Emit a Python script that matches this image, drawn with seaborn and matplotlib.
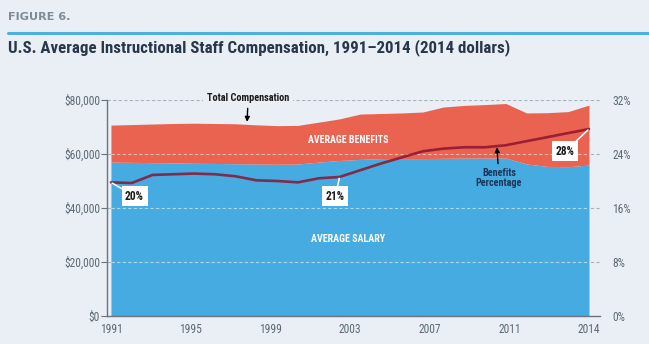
import matplotlib
matplotlib.use("Agg")
import matplotlib.pyplot as plt
from matplotlib import font_manager as fm
from matplotlib.lines import Line2D
import numpy as np
import pandas as pd
import seaborn as sns

# Compensation per instructional staff member, constant 2014 dollars
years = list(range(1991, 2015))
total_comp = [70700, 70900, 71100, 71300, 71400, 71300, 71200, 70800, 70500, 70600,
              71800, 73000, 74800, 75000, 75200, 75550, 77400, 78000, 78300, 78700,
              75200, 75300, 75700, 78100]
avg_salary = [57000, 56900, 56800, 56700, 56550, 56500, 56400, 56300, 56200, 56300,
              57000, 57600, 58000, 58300, 58300, 58300, 58400, 58500, 58500, 58500,
              56300, 55400, 55300, 55900]
# Benefits as a share of total compensation (%)
benefits_pct = [19.8, 19.7, 20.9, 21.0, 21.1, 21.0, 20.7, 20.1, 20.0, 19.8,
                20.4, 20.6, 21.6, 22.6, 23.5, 24.4, 24.8, 25.0, 25.0, 25.3,
                25.9, 26.5, 27.1, 27.7]

x_tick_labels = ["1991", "1995", "1999", "2003", "2007", "2011", "2014"]
dollar_ticks = [0, 20000, 40000, 60000, 80000]
pct_ticks = [0, 8, 16, 24, 32]
callout_years = [1991, 2002, 2014]

BG = "#e9eff4"
BLUE = "#46abe0"
RED = "#ea6350"
LINE = "#8c1330"
NAVY = "#1d3557"
GREY = "#5d6a75"
GRID = "#a9b3bc"


def pick_narrow_family():
    """Return (family, stretch) for the narrowest sans face that is installed."""
    entries = fm.fontManager.ttflist
    names = {e.name for e in entries}
    for key in ("Liberation Sans Narrow", "Arial Narrow", "Roboto Condensed",
                "Open Sans Condensed", "DejaVu Sans Condensed", "Noto Sans Condensed"):
        if key in names:
            return key, "normal"
    for e in entries:
        if "Narrow" in e.name or "Condensed" in e.name:
            return e.name, "normal"
    for e in entries:
        if str(e.stretch) in ("condensed", "semi-condensed", "extra-condensed"):
            return e.name, str(e.stretch)
    return "DejaVu Sans", "normal"


sns.set_theme(style="white")
NARROW, STRETCH = pick_narrow_family()
plt.rcParams["font.family"] = [NARROW, "DejaVu Sans"]
plt.rcParams["font.stretch"] = STRETCH

df = pd.DataFrame({"year": years, "total": total_comp,
                   "salary": avg_salary, "pct": benefits_pct})

fig = plt.figure(figsize=(6.49, 3.44), dpi=100, facecolor=BG)
ax = fig.add_axes([107 / 649, 28 / 344, 493 / 649, 216 / 344])
ax.set_facecolor(BG)

# Header
fig_label = fig.text(8 / 649, 1 - 17 / 344, "FIGURE 6.", fontsize=7.5,
                     fontweight="bold", color="#7d8b97", va="center",
                     family=["DejaVu Sans"], fontstretch="normal")
fig.add_artist(Line2D([8 / 649, 1.0], [1 - 33 / 344] * 2, color="#4bb0dc", lw=2.2))
title = fig.text(8 / 649, 1 - 48 / 344,
                 "U.S. Average Instructional Staff Compensation, 1991\u20132014 (2014 dollars)",
                 fontsize=13, fontweight="bold", color="#27374a", va="center")

# Gridlines behind the stacked areas
for v in dollar_ticks[1:]:
    ax.axhline(v, color=GRID, lw=0.8, ls=(0, (3, 2)), zorder=1)

ax.fill_between(df["year"], 0, df["salary"], color=BLUE, lw=0, zorder=2)
ax.fill_between(df["year"], df["salary"], df["total"], color=RED, lw=0, zorder=2)

# Lighter dashes where the gridlines cross the filled areas
ax.hlines(dollar_ticks[1:4], years[0], years[-1], color="white", alpha=0.55,
          lw=0.8, linestyles=[(0, (3, 2))], zorder=3)

ax.set_xlim(1990.81, 2014.53)
ax.set_ylim(0, 80000)
ax.set_xticks(np.linspace(years[0], years[-1], len(x_tick_labels)))
ax.set_xticklabels(x_tick_labels)
ax.set_yticks(dollar_ticks)
ax.set_yticklabels([f"${v:,.0f}" for v in dollar_ticks])
ax.tick_params(axis="y", length=4, width=0.8, color="#6b747c", pad=1,
               labelsize=8.3, labelcolor=GREY, left=True)
ax.tick_params(axis="x", length=0, pad=5, labelsize=8.3, labelcolor=GREY)
for s in ["top", "right"]:
    ax.spines[s].set_visible(False)
for s in ["left", "bottom"]:
    ax.spines[s].set_color("#6b747c")
    ax.spines[s].set_linewidth(1)
ax.set_xlabel("")
ax.set_ylabel("")

t_ben = ax.text(2002.4, 65190, "AVERAGE BENEFITS", color="white", fontsize=7.5,
                fontweight="heavy", ha="center", va="center", zorder=5)
t_sal = ax.text(2002.4, 28520, "AVERAGE SALARY", color="white", fontsize=7.5,
                fontweight="heavy", ha="center", va="center", zorder=5)
t_tot = ax.annotate("Total Compensation", xy=(1997.55, 71900), xytext=(1997.6, 80700),
                    ha="center", va="center", fontsize=8, fontweight="heavy",
                    color="#1a1a1a", bbox=dict(fc=BG, ec="none", pad=3),
                    arrowprops=dict(arrowstyle="-|>", color="black", lw=1, shrinkA=1,
                                    shrinkB=0, mutation_scale=7), zorder=6)

# Benefits share on the secondary axis
ax2 = ax.twinx()
sns.lineplot(data=df, x="year", y="pct", ax=ax2, color=LINE, lw=1.9, alpha=0.85,
             zorder=4)
ax2.set_ylim(0, 32)
ax2.set_yticks(pct_ticks)
ax2.set_yticklabels([f"{v}%" for v in pct_ticks])
ax2.tick_params(axis="y", length=0, pad=9, labelsize=8.3, labelcolor=GREY)
for s in ax2.spines.values():
    s.set_visible(False)
ax2.set_xlabel("")
ax2.set_ylabel("")

offsets = {1991: (17, -10), 2002: (-3, -14), 2014: (-17, -16)}
for yr in callout_years:
    v = benefits_pct[years.index(yr)]
    ax2.annotate(f"{round(v)}%", xy=(yr, v), xytext=offsets[yr],
                 textcoords="offset points", ha="center", va="center",
                 fontsize=8.3, fontweight="heavy", color="#1a1a1a",
                 bbox=dict(fc="white", ec="none", pad=2.6),
                 arrowprops=dict(arrowstyle="-", color="white", lw=1.1,
                                 shrinkA=0, shrinkB=1), zorder=6)

t_pct = ax2.annotate("Benefits\nPercentage", xy=(2009.57, 25.0), xytext=(2009.67, 20.4),
                     ha="center", va="center", fontsize=8, fontweight="heavy",
                     color=NAVY, linespacing=1.0,
                     arrowprops=dict(arrowstyle="-|>", color="black", lw=1, shrinkA=1,
                                     shrinkB=0, mutation_scale=7), zorder=6)

# Scale the wide texts so their widths (in pixels) follow the layout
renderer = fig.canvas.get_renderer()
for txt, width_px in ((title, 500), (fig_label, 63), (t_tot, 82), (t_ben, 80),
                      (t_sal, 74), (t_pct, 46)):
    w = txt.get_window_extent(renderer).width
    txt.set_fontsize(txt.get_fontsize() * width_px / w)

fig.savefig("out.png", dpi=100, facecolor=BG)
